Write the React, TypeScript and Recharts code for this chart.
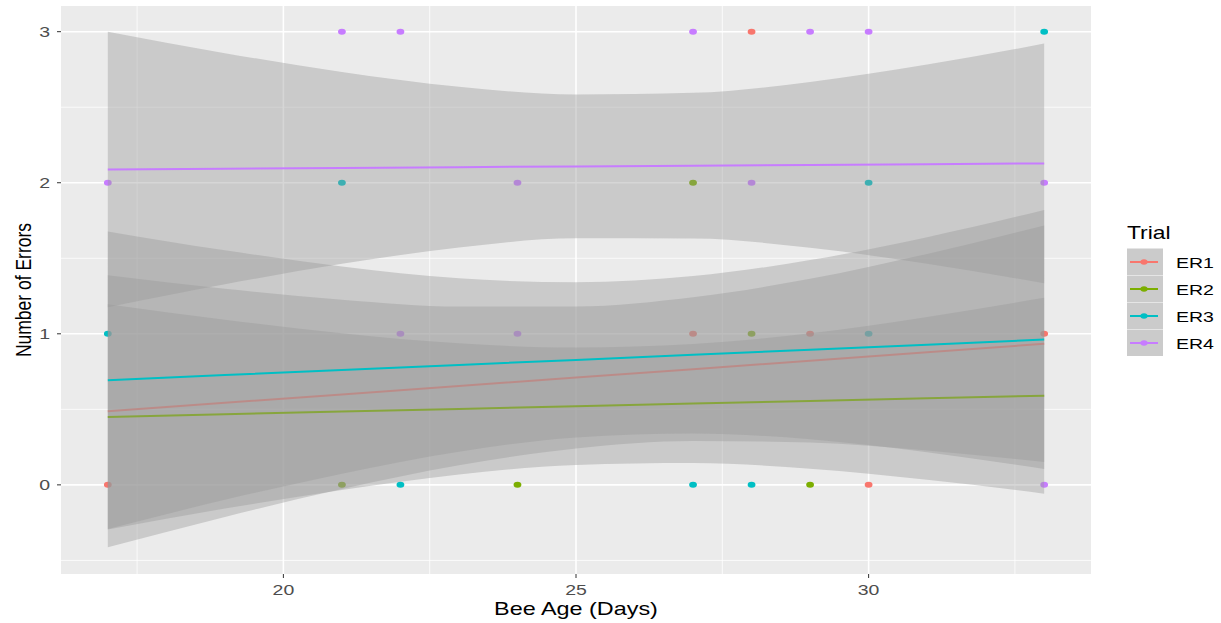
import React from 'react'
import {
  ComposedChart, Area, Line, Scatter, XAxis, YAxis, CartesianGrid, ReferenceLine, Label,
} from 'recharts'

// fitted lines + 95% bands at these ages
const AGE_GRID = [17, 19, 21, 23, 25, 27, 29, 31, 33]

const ER1_FIT = [0.487, 0.543, 0.599, 0.655, 0.711, 0.766, 0.822, 0.878, 0.934]
const ER1_LO = [-0.413, -0.212, -0.027, 0.13, 0.241, 0.29, 0.28, 0.227, 0.151]
const ER1_HI = [1.387, 1.298, 1.225, 1.18, 1.181, 1.242, 1.364, 1.529, 1.717]

const ER2_FIT = [0.45, 0.468, 0.485, 0.503, 0.52, 0.538, 0.555, 0.573, 0.59]
const ER2_LO = [-0.295, -0.157, -0.034, 0.069, 0.131, 0.144, 0.107, 0.034, -0.058]
const ER2_HI = [1.195, 1.093, 1.004, 0.937, 0.909, 0.932, 1.003, 1.112, 1.238]

const ER3_FIT = [0.693, 0.727, 0.76, 0.794, 0.827, 0.861, 0.895, 0.928, 0.962]
const ER3_LO = [-0.292, -0.099, 0.074, 0.22, 0.313, 0.34, 0.302, 0.216, 0.105]
const ER3_HI = [1.678, 1.553, 1.446, 1.368, 1.341, 1.382, 1.488, 1.64, 1.819]

const ER4_FIT = [2.088, 2.093, 2.098, 2.103, 2.108, 2.113, 2.118, 2.123, 2.128]
const ER4_LO = [1.176, 1.328, 1.463, 1.571, 1.632, 1.631, 1.569, 1.464, 1.335]
const ER4_HI = [3.0, 2.858, 2.733, 2.635, 2.584, 2.595, 2.667, 2.782, 2.921]

// raw observations (visible points)
const ER1_AGE = [17, 27, 28, 29, 30, 33]
const ER1_ERR = [0, 1, 3, 1, 0, 1]
const ER2_AGE = [21, 24, 27, 28, 29]
const ER2_ERR = [0, 0, 2, 1, 0]
const ER3_AGE = [17, 21, 22, 27, 28, 30, 30, 33]
const ER3_ERR = [1, 2, 0, 0, 0, 2, 1, 3]
const ER4_AGE = [17, 21, 22, 22, 24, 24, 27, 28, 29, 30, 33, 33]
const ER4_ERR = [2, 3, 3, 1, 2, 1, 3, 2, 3, 3, 2, 0]

const TRIALS = ['ER1', 'ER2', 'ER3', 'ER4']
const COLORS = ['#F8766D', '#7CAE00', '#00BFC4', '#C77CFF']

const X_TICKS = [20, 25, 30]
const X_MINOR = [17.5, 22.5, 27.5, 32.5]
const Y_TICKS = [0, 1, 2, 3]
const Y_MINOR = [-0.5, 0.5, 1.5, 2.5]

const fits = [ER1_FIT, ER2_FIT, ER3_FIT, ER4_FIT]
const los = [ER1_LO, ER2_LO, ER3_LO, ER4_LO]
const his = [ER1_HI, ER2_HI, ER3_HI, ER4_HI]
const ages = [ER1_AGE, ER2_AGE, ER3_AGE, ER4_AGE]
const errs = [ER1_ERR, ER2_ERR, ER3_ERR, ER4_ERR]

const bandData = AGE_GRID.map((x, i) => {
  const row: Record<string, any> = { x }
  TRIALS.forEach((t, k) => {
    row[t] = fits[k][i]
    row[t + 'band'] = [los[k][i], his[k][i]]
  })
  return row
})

const points = TRIALS.map((_, k) => ages[k].map((x, i) => ({ x, y: errs[k][i] })))

const FONT = '"Liberation Sans", Arial, sans-serif'
const SX = 1.3

const Dot = (p: any) => <ellipse cx={p.cx} cy={p.cy} rx={3.9} ry={3} fill={p.fill} />

const XTick = (p: any) => (
  <text transform={`translate(${p.x},${p.y + 15}) scale(${SX},1)`} textAnchor="middle"
    fontSize={15} fill="#4D4D4D" fontFamily={FONT}>{p.payload.value}</text>
)

const YTick = (p: any) => (
  <text transform={`translate(${p.x - 5},${p.y}) scale(${SX},1)`} textAnchor="end" dy="0.36em"
    fontSize={15} fill="#4D4D4D" fontFamily={FONT}>{p.payload.value}</text>
)

function Legend() {
  return (
    <svg width={1221} height={623} style={{ position: 'absolute', left: 0, top: 0, pointerEvents: 'none' }}>
      <text transform={`translate(1127,239) scale(1.27,1)`} fontSize={18} fontFamily={FONT} fill="#000">Trial</text>
      {TRIALS.map((t, i) => {
        const top = 248.5 + 27 * i
        const cy = top + 13.5
        return (
          <g key={t}>
            <rect x={1127} y={top} width={36} height={26.5} fill="#CBCBCB" />
            <line x1={1130} x2={1158} y1={cy} y2={cy} stroke={COLORS[i]} strokeWidth={2} />
            <ellipse cx={1144} cy={cy} rx={3.6} ry={2.7} fill={COLORS[i]} />
            <text transform={`translate(1176,${cy + 5.5}) scale(${SX},1)`} fontSize={15} fontFamily={FONT} fill="#000">{t}</text>
          </g>
        )
      })}
    </svg>
  )
}

export default function App() {
  return (
    <div style={{ position: 'absolute', left: 0, top: 0, width: 1221, height: 623, background: '#fff', fontFamily: FONT }}>
      <ComposedChart width={1221} height={623} data={bandData} margin={{ top: 6, right: 130, bottom: 0, left: 0 }}>
        <CartesianGrid fill="#EBEBEB" horizontal={false} vertical={false} />
        {X_MINOR.map((v) => <ReferenceLine key={'xm' + v} x={v} stroke="#fff" strokeWidth={0.8} zIndex={-60} />)}
        {Y_MINOR.map((v) => <ReferenceLine key={'ym' + v} y={v} stroke="#fff" strokeWidth={0.8} zIndex={-60} />)}
        {X_TICKS.map((v) => <ReferenceLine key={'x' + v} x={v} stroke="#fff" strokeWidth={1.6} zIndex={-50} />)}
        {Y_TICKS.map((v) => <ReferenceLine key={'y' + v} y={v} stroke="#fff" strokeWidth={1.6} zIndex={-50} />)}
        <XAxis type="number" dataKey="x" domain={[16.2, 33.8]} ticks={X_TICKS} allowDataOverflow
          height={49} axisLine={false} tickSize={4} tickLine={{ stroke: '#333333' }} tick={<XTick />}>
          <Label content={(p: any) => {
            const vb = p.viewBox
            return (
              <text transform={`translate(${vb.x + vb.width / 2},615) scale(${SX},1)`} textAnchor="middle"
                fontSize={18} fontFamily={FONT} fill="#000">Bee Age (Days)</text>
            )
          }} />
        </XAxis>
        <YAxis type="number" domain={[-0.59, 3.17]} ticks={Y_TICKS} allowDataOverflow
          width={61} axisLine={false} tickSize={4} tickLine={{ stroke: '#333333' }} tick={<YTick />}>
          <Label content={(p: any) => {
            const vb = p.viewBox
            return (
              <text transform={`translate(31,${vb.y + vb.height / 2}) scale(${SX},1) rotate(-90)`} textAnchor="middle"
                fontSize={17.5} fontFamily={FONT} fill="#000">Number of Errors</text>
            )
          }} />
        </YAxis>
        {TRIALS.map((t, k) => (
          <Scatter key={'s' + t} data={points[k]} dataKey="y" fill={COLORS[k]} shape={Dot}
            isAnimationActive={false} zIndex={10 + k} />
        ))}
        {TRIALS.flatMap((t, k) => [
          <Area key={'a' + t} type="monotone" dataKey={t + 'band'} stroke="none" fill="#999999" fillOpacity={0.4}
            isAnimationActive={false} activeDot={false} zIndex={100 + k * 2} />,
          <Line key={'l' + t} type="linear" dataKey={t} stroke={COLORS[k]} strokeWidth={2} dot={false}
            activeDot={false} isAnimationActive={false} zIndex={101 + k * 2} />,
        ])}
      </ComposedChart>
      <Legend />
    </div>
  )
}
